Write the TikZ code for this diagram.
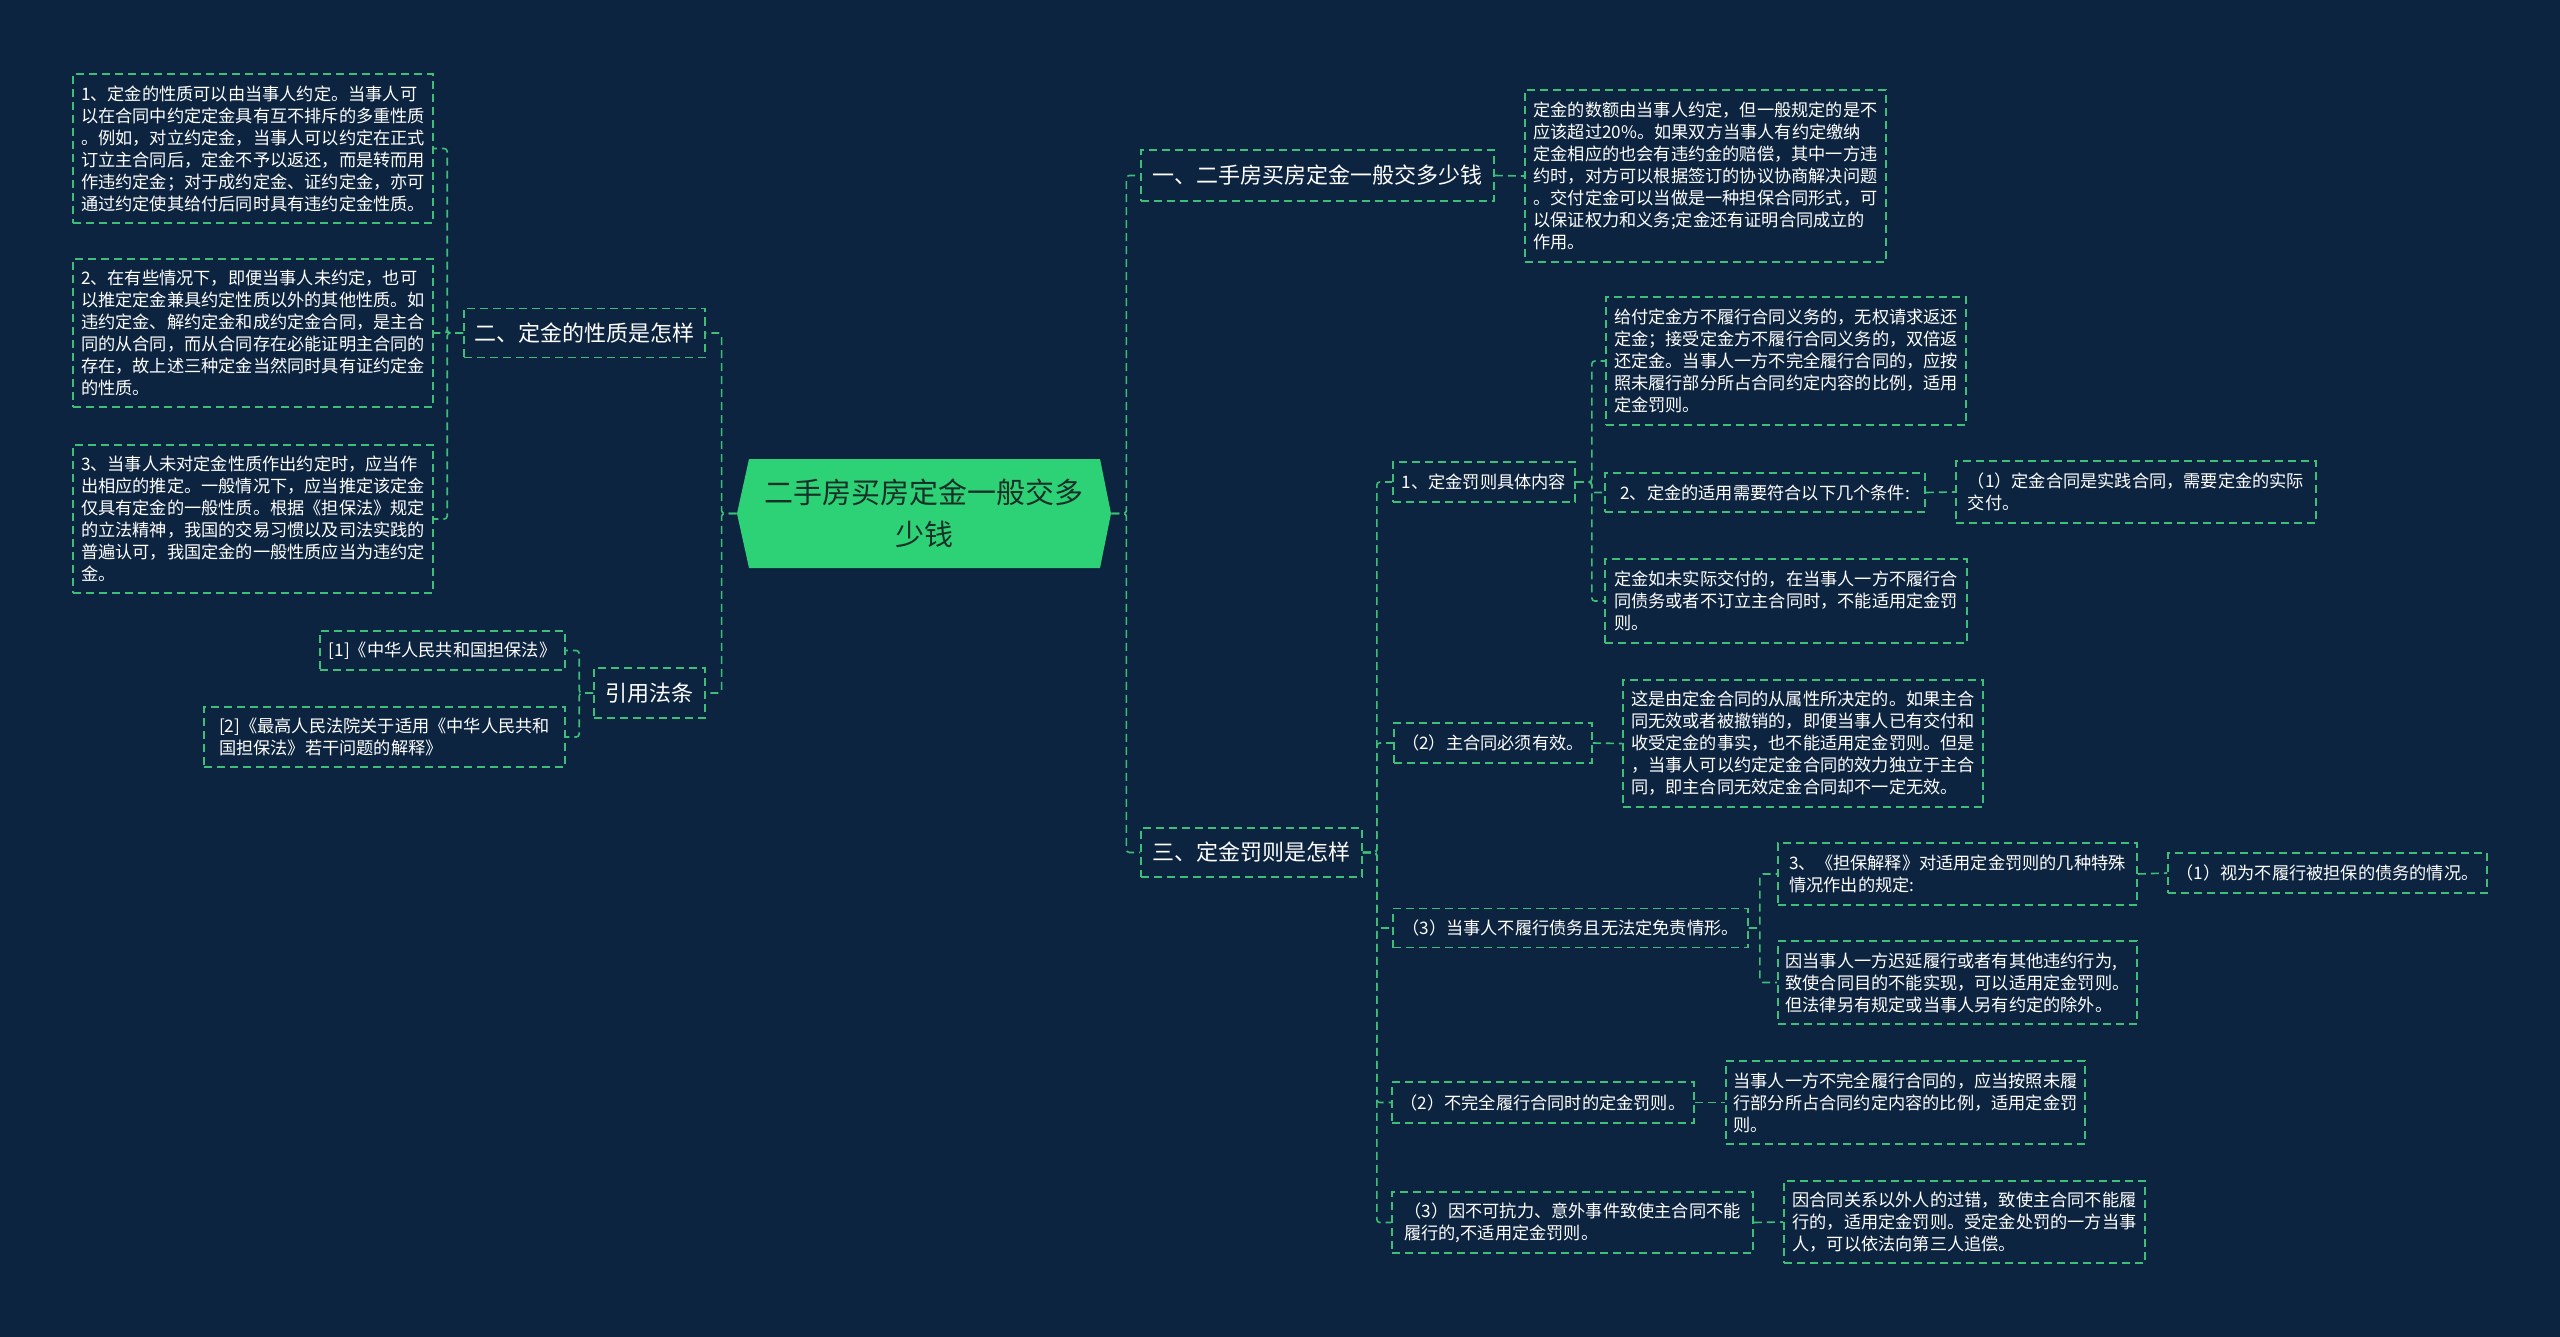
\documentclass[tikz,border=0pt]{standalone}
\usepackage{fontspec}
\setmainfont{Noto Sans CJK SC}
\definecolor{bg}{RGB}{12,36,64}
\definecolor{ln}{RGB}{62,190,120}
\definecolor{rootc}{RGB}{46,210,118}
\definecolor{roottext}{RGB}{22,48,40}
\begin{document}
\begin{tikzpicture}[x=0.5pt,y=-0.5pt,
 conn/.style={draw=ln, line width=0.8pt, dash pattern=on 4pt off 2.5pt, rounded corners=1.5pt},
 sbox/.style={draw=ln, line width=0.8pt, dash pattern=on 4pt off 2.5pt, text=white,
   font=\fontsize{8.6}{11}\selectfont, align=left, inner sep=0pt},
 lbox/.style={sbox, font=\fontsize{11}{14}\selectfont},
]
\fill[bg] (0,0) rectangle (2560,1337);
\useasboundingbox (0,0) rectangle (2560,1337);

% root
\fill[rootc] (749,459) -- (1100,459) -- (1111,513.5) -- (1100,568) -- (749,568) -- (737,513.5) -- cycle;
\node[font=\fontsize{14.5}{21}\selectfont, text=roottext, align=center, minimum width=187pt, minimum height=54.5pt, inner sep=0pt] (root) at (924,513.5) {二手房买房定金一般交多\\少钱};

% level 1
\node[lbox, minimum width=176.5pt, minimum height=25.5pt] (A1) at (1317.5,175.5) {一、二手房买房定金一般交多少钱};
\node[lbox, minimum width=120.5pt, minimum height=24.5pt] (A2) at (584.5,333) {二、定金的性质是怎样};
\node[lbox, minimum width=55.5pt, minimum height=25pt] (A3) at (649.5,693) {引用法条};
\node[lbox, minimum width=110.5pt, minimum height=24.5pt] (A4) at (1251.5,852.5) {三、定金罚则是怎样};

% left children
\node[sbox, minimum width=180pt, minimum height=74.5pt] (B1) at (253,148.5) {1、定金的性质可以由当事人约定。当事人可\\以在合同中约定定金具有互不排斥的多重性质\\。例如，对立约定金，当事人可以约定在正式\\订立主合同后，定金不予以返还，而是转而用\\作违约定金；对于成约定金、证约定金，亦可\\通过约定使其给付后同时具有违约定金性质。};
\node[sbox, minimum width=180pt, minimum height=74pt] (B2) at (253,333) {2、在有些情况下，即便当事人未约定，也可\\以推定定金兼具约定性质以外的其他性质。如\\违约定金、解约定金和成约定金合同，是主合\\同的从合同，而从合同存在必能证明主合同的\\存在，故上述三种定金当然同时具有证约定金\\的性质。};
\node[sbox, minimum width=180pt, minimum height=74pt] (B3) at (253,519) {3、当事人未对定金性质作出约定时，应当作\\出相应的推定。一般情况下，应当推定该定金\\仅具有定金的一般性质。根据《担保法》规定\\的立法精神，我国的交易习惯以及司法实践的\\普遍认可，我国定金的一般性质应当为违约定\\金。};
\node[sbox, minimum width=122.5pt, minimum height=19.5pt] (C1) at (442.5,650.5) {[1]《中华人民共和国担保法》};
\node[sbox, minimum width=180.5pt, minimum height=30pt] (C2) at (384.5,737) {[2]《最高人民法院关于适用《中华人民共和\\国担保法》若干问题的解释》};

% right children
\node[sbox, minimum width=180.5pt, minimum height=86pt] (D1) at (1705.5,176) {定金的数额由当事人约定，但一般规定的是不\\应该超过20\%。如果双方当事人有约定缴纳\\定金相应的也会有违约金的赔偿，其中一方违\\约时，对方可以根据签订的协议协商解决问题\\。交付定金可以当做是一种担保合同形式，可\\以保证权力和义务;定金还有证明合同成立的\\作用。};

\node[sbox, minimum width=91pt, minimum height=20pt] (E1) at (1484,482) {1、定金罚则具体内容};
\node[sbox, minimum width=99pt, minimum height=20pt] (E2) at (1493,743) {（2）主合同必须有效。};
\node[sbox, minimum width=177.5pt, minimum height=19.5pt] (E3) at (1570.5,928) {（3）当事人不履行债务且无法定免责情形。};
\node[sbox, minimum width=151pt, minimum height=20.5pt] (E4) at (1543,1102.5) {（2）不完全履行合同时的定金罚则。};
\node[sbox, minimum width=180.5pt, minimum height=30.5pt] (E5) at (1572.5,1222.5) {（3）因不可抗力、意外事件致使主合同不能\\履行的,不适用定金罚则。};

\node[sbox, minimum width=180pt, minimum height=64pt] (F1) at (1786,361) {给付定金方不履行合同义务的，无权请求返还\\定金；接受定金方不履行合同义务的，双倍返\\还定金。当事人一方不完全履行合同的，应按\\照未履行部分所占合同约定内容的比例，适用\\定金罚则。};
\node[sbox, minimum width=160pt, minimum height=19.5pt] (F2) at (1765,492.5) {2、定金的适用需要符合以下几个条件:};
\node[sbox, minimum width=181pt, minimum height=42pt] (F3) at (1786,601) {定金如未实际交付的，在当事人一方不履行合\\同债务或者不订立主合同时，不能适用定金罚\\则。};
\node[sbox, minimum width=180pt, minimum height=31pt] (G1) at (2136,492) {（1）定金合同是实践合同，需要定金的实际\\交付。};
\node[sbox, minimum width=180pt, minimum height=63.5pt] (H1) at (1803,743.5) {这是由定金合同的从属性所决定的。如果主合\\同无效或者被撤销的，即便当事人已有交付和\\收受定金的事实，也不能适用定金罚则。但是\\，当事人可以约定定金合同的效力独立于主合\\同，即主合同无效定金合同却不一定无效。};
\node[sbox, minimum width=179.5pt, minimum height=31pt] (I1) at (1957.5,874) {3、《担保解释》对适用定金罚则的几种特殊\\情况作出的规定:};
\node[sbox, minimum width=159.5pt, minimum height=20pt] (J1) at (2327.5,873) {（1）视为不履行被担保的债务的情况。};
\node[sbox, minimum width=179.5pt, minimum height=41.5pt] (I2) at (1957.5,982.5) {因当事人一方迟延履行或者有其他违约行为,\\致使合同目的不能实现，可以适用定金罚则。\\但法律另有规定或当事人另有约定的除外。};
\node[sbox, minimum width=179.5pt, minimum height=41.5pt] (K1) at (1905.5,1102.5) {当事人一方不完全履行合同的，应当按照未履\\行部分所占合同约定内容的比例，适用定金罚\\则。};
\node[sbox, minimum width=180.5pt, minimum height=41pt] (K2) at (1964.5,1222) {因合同关系以外人的过错，致使主合同不能履\\行的，适用定金罚则。受定金处罚的一方当事\\人，可以依法向第三人追偿。};

% connectors
\draw[conn] (root.east) -- ++(15,0) |- (A1.west);
\draw[conn] (root.east) -- ++(15,0) |- (A4.west);
\draw[conn] (root.west) -- ++(-15,0) |- (A2.east);
\draw[conn] (root.west) -- ++(-15,0) |- (A3.east);

\draw[conn] (A2.west) -- ++(-16,0) |- (B1.east);
\draw[conn] (A2.west) -- ++(-16,0) |- (B2.east);
\draw[conn] (A2.west) -- ++(-16,0) |- (B3.east);
\draw[conn] (A3.west) -- ++(-14,0) |- (C1.east);
\draw[conn] (A3.west) -- ++(-14,0) |- (C2.east);

\draw[conn] (A1.east) -- (D1.west);

\draw[conn] (A4.east) -- ++(14,0) |- (E1.west);
\draw[conn] (A4.east) -- ++(14,0) |- (E2.west);
\draw[conn] (A4.east) -- ++(14,0) |- (E3.west);
\draw[conn] (A4.east) -- ++(14,0) |- (E4.west);
\draw[conn] (A4.east) -- ++(14,0) |- (E5.west);

\draw[conn] (E1.east) -- ++(16,0) |- (F1.west);
\draw[conn] (E1.east) -- ++(16,0) |- (F2.west);
\draw[conn] (E1.east) -- ++(16,0) |- (F3.west);
\draw[conn] (F2.east) -- (G1.west);
\draw[conn] (E2.east) -- (H1.west);
\draw[conn] (E3.east) -- ++(11,0) |- (I1.west);
\draw[conn] (E3.east) -- ++(11,0) |- (I2.west);
\draw[conn] (I1.east) -- (J1.west);
\draw[conn] (E4.east) -- (K1.west);
\draw[conn] (E5.east) -- (K2.west);
\end{tikzpicture}
\end{document}
